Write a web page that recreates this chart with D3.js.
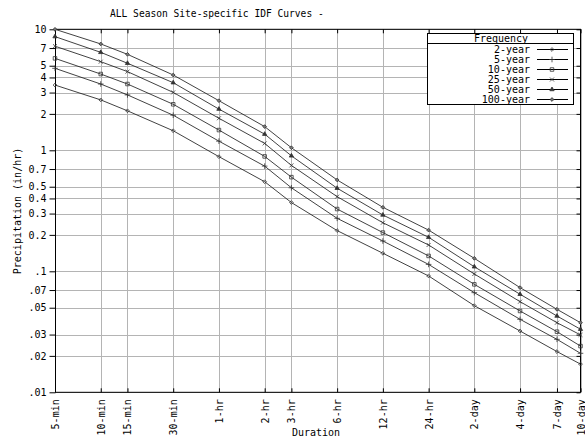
<!DOCTYPE html>
<html>
<head>
<meta charset="utf-8">
<script src="https://cdn.jsdelivr.net/npm/d3@7"></script>
<style>
  body { margin: 0; background: #fff; }
  svg text { font-family: "DejaVu Sans Mono", monospace; fill: #000; }
</style>
</head>
<body>
<div class="canvas"></div>
<script>
// durations in minutes and their labels
var durations = [5, 10, 15, 30, 60, 120, 180, 360, 720, 1440, 2880, 5760, 10080, 14400];
var durationLabels = ["5-min", "10-min", "15-min", "30-min", "1-hr", "2-hr", "3-hr",
  "6-hr", "12-hr", "24-hr", "2-day", "4-day", "7-day", "10-day"];

var yTicks = [10, 7, 5, 4, 3, 2, 1, 0.7, 0.5, 0.4, 0.3, 0.2, 0.1, 0.07, 0.05, 0.03, 0.02, 0.01];
var yTickLabels = ["10", "7", "5", "4", "3", "2", "1", "0.7", "0.5", "0.4", "0.3", "0.2",
  ".1", ".07", ".05", ".03", ".02", ".01"];

var frequencies = ["2-year", "5-year", "10-year", "25-year", "50-year", "100-year"];

// precipitation intensity (in/hr) per frequency
var year2   = [3.46, 2.61, 2.12, 1.45, 0.886, 0.55, 0.37, 0.217, 0.141, 0.0915, 0.052, 0.0321, 0.0217, 0.0171];
var year5   = [4.76, 3.53, 2.87, 1.95, 1.19, 0.74, 0.49, 0.274, 0.178, 0.114, 0.0666, 0.0401, 0.0274, 0.0210];
var year10  = [5.75, 4.27, 3.53, 2.40, 1.47, 0.89, 0.60, 0.327, 0.209, 0.134, 0.078, 0.047, 0.0317, 0.0241];
var year25  = [7.25, 5.40, 4.47, 3.01, 1.84, 1.14, 0.75, 0.414, 0.252, 0.165, 0.095, 0.0561, 0.0376, 0.0298];
var year50  = [8.70, 6.45, 5.24, 3.62, 2.19, 1.36, 0.90, 0.486, 0.292, 0.191, 0.109, 0.0646, 0.0427, 0.0332];
var year100 = [10.0, 7.57, 6.21, 4.19, 2.57, 1.57, 1.05, 0.569, 0.338, 0.219, 0.128, 0.0733, 0.0485, 0.0376];

var seriesValues = [year2, year5, year10, year25, year50, year100];
var markers = [d3.symbolDiamond2, d3.symbolPlus, d3.symbolSquare2, d3.symbolX, d3.symbolTriangle, d3.symbolDiamond2];
var markerSize = [9, 12, 16, 12, 8, 9];
var markerFill = ["none", "none", "none", "none", "#333", "#777"];

var W = 585, H = 438;
var plotL = 55, plotR = 580.5, plotT = 29.3, plotB = 392.3;

var svg = d3.select(".canvas")
  .append("svg")
  .attr("width", W)
  .attr("height", H);

var x = d3.scaleLog().domain([5, 14400]).range([plotL, plotR]);
var y = d3.scaleLog().domain([0.01, 10]).range([plotB, plotT]);

// TITLE
svg.append("text")
  .attr("x", 110)
  .attr("y", 17)
  .style("font-size", "9.6px")
  .text("ALL Season Site-specific IDF Curves -");

// GRID
svg.append("g").selectAll("line")
  .data(yTicks)
  .enter().append("line")
  .attr("x1", plotL).attr("x2", plotR)
  .attr("y1", function(d){ return Math.round(y(d)) + 0.5; })
  .attr("y2", function(d){ return Math.round(y(d)) + 0.5; })
  .attr("stroke", "#b4b4b4");

svg.append("g").selectAll("line")
  .data(durations)
  .enter().append("line")
  .attr("y1", plotT).attr("y2", plotB)
  .attr("x1", function(d){ return Math.round(x(d)) + 0.5; })
  .attr("x2", function(d){ return Math.round(x(d)) + 0.5; })
  .attr("stroke", "#b4b4b4");

// AXES
var yAxis = d3.axisLeft(y)
  .tickValues(yTicks)
  .tickSize(6)
  .tickPadding(3)
  .tickFormat(function(d, i){ return yTickLabels[i]; });

var gy = svg.append("g")
  .attr("transform", "translate(" + (plotL + 0.5) + ",0)")
  .call(yAxis);
gy.select(".domain").remove();
gy.selectAll("text").style("font-size", "10px").style("font-family", "DejaVu Sans Mono");

var yRight = d3.axisLeft(y).tickValues(yTicks).tickSize(4).tickFormat("");
var gyr = svg.append("g")
  .attr("transform", "translate(" + plotR + ",0)")
  .call(yRight);
gyr.select(".domain").remove();

var xAxis = d3.axisBottom(x)
  .tickValues(durations)
  .tickSize(0)
  .tickPadding(0)
  .tickFormat(function(d, i){ return durationLabels[i]; });

var gx = svg.append("g")
  .attr("transform", "translate(0," + plotB + ")")
  .call(xAxis);
gx.select(".domain").remove();
gx.selectAll("text")
  .style("font-size", "10px")
  .style("font-family", "DejaVu Sans Mono")
  .attr("text-anchor", "end")
  .attr("transform", "rotate(-90)")
  .attr("x", -7)
  .attr("y", 0)
  .attr("dy", "0.35em");

var xTopTicks = d3.axisBottom(x).tickValues(durations).tickSize(4).tickFormat("");
var gxt = svg.append("g").attr("transform", "translate(0," + plotT + ")").call(xTopTicks);
gxt.select(".domain").remove();
var xBotTicks = d3.axisTop(x).tickValues(durations).tickSize(4).tickFormat("");
var gxb = svg.append("g").attr("transform", "translate(0," + plotB + ")").call(xBotTicks);
gxb.select(".domain").remove();

svg.append("rect")
  .attr("x", plotL + 0.5).attr("y", plotT)
  .attr("width", plotR - plotL - 0.5).attr("height", plotB - plotT)
  .attr("fill", "none")
  .attr("stroke", "#000")
  .attr("stroke-width", 1);

// AXIS TITLES
svg.append("text")
  .attr("transform", "translate(21,211) rotate(-90)")
  .attr("text-anchor", "middle")
  .style("font-size", "10px")
  .text("Precipitation (in/hr)");

svg.append("text")
  .attr("x", 316)
  .attr("y", 435.5)
  .attr("text-anchor", "middle")
  .style("font-size", "10px")
  .text("Duration");

// CURVES
var line = d3.line()
  .x(function(d, i){ return x(durations[i]); })
  .y(function(d){ return y(d); });

seriesValues.forEach(function(vals, s){
  svg.append("path")
    .datum(vals)
    .attr("d", line)
    .attr("fill", "none")
    .attr("stroke", "#111")
    .attr("stroke-width", 0.8);

  svg.append("g").selectAll("path")
    .data(vals)
    .enter().append("path")
    .attr("transform", function(d, i){ return "translate(" + x(durations[i]) + "," + y(d) + ")"; })
    .attr("d", d3.symbol().type(markers[s]).size(markerSize[s]))
    .attr("fill", markerFill[s])
    .attr("stroke", "#333")
    .attr("stroke-width", 0.8);
});

// LEGEND
var lg = svg.append("g");
lg.append("rect")
  .attr("x", 427.5).attr("y", 33.5)
  .attr("width", 146).attr("height", 71)
  .attr("fill", "#fff")
  .attr("stroke", "#000");
lg.append("line")
  .attr("x1", 427.5).attr("x2", 573.5)
  .attr("y1", 43.5).attr("y2", 43.5)
  .attr("stroke", "#000");
lg.append("text")
  .attr("x", 501).attr("y", 41.5)
  .attr("text-anchor", "middle")
  .style("font-size", "10px")
  .text("Frequency");

frequencies.forEach(function(f, s){
  var ly = 49 + s * 10;
  lg.append("text")
    .attr("x", 530).attr("y", ly)
    .attr("dy", "0.35em")
    .attr("text-anchor", "end")
    .style("font-size", "10px")
    .text(f);
  lg.append("line")
    .attr("x1", 537).attr("x2", 568)
    .attr("y1", ly + 0.5).attr("y2", ly + 0.5)
    .attr("stroke", "#000");
  lg.append("path")
    .attr("transform", "translate(552," + (ly + 0.5) + ")")
    .attr("d", d3.symbol().type(markers[s]).size(markerSize[s]))
    .attr("fill", markerFill[s])
    .attr("stroke", "#333")
    .attr("stroke-width", 0.8);
});
</script>
</body>
</html>
